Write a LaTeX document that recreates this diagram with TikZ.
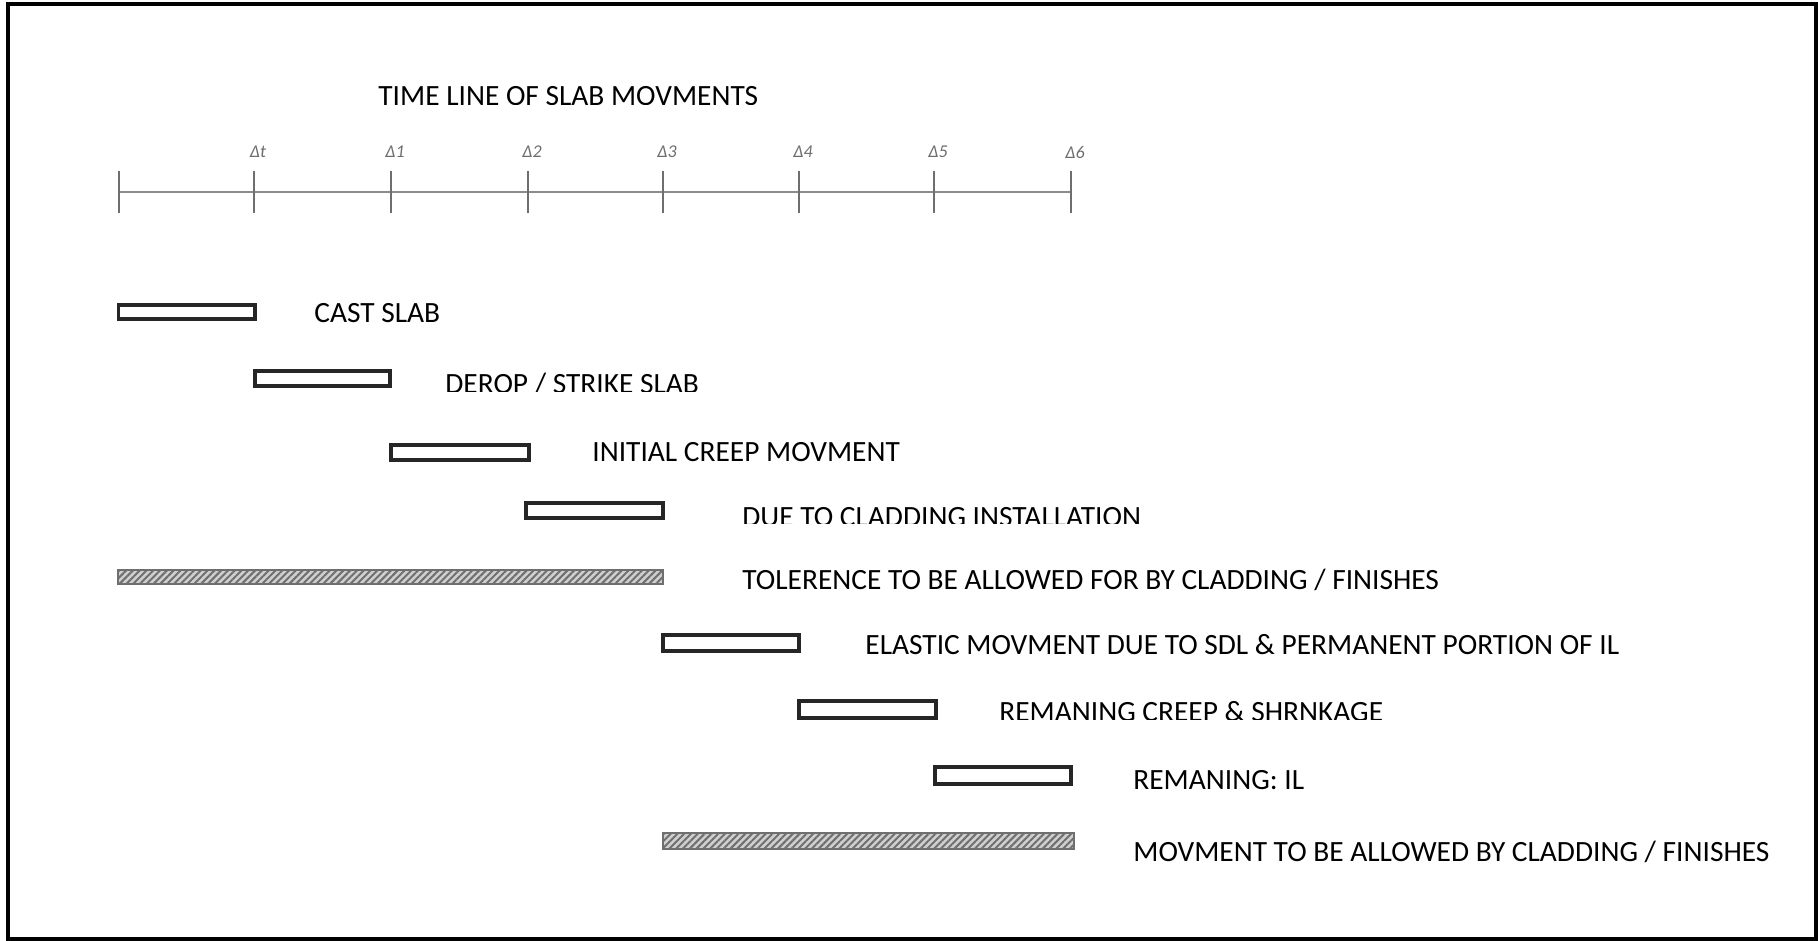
\documentclass[tikz,border=0pt]{standalone}
\usepackage{fontspec}
\setmainfont{Carlito}
\usetikzlibrary{patterns.meta}
\definecolor{linegray}{HTML}{8C8C8C}
\definecolor{tickgray}{HTML}{6E6E6E}
\definecolor{hatchbg}{HTML}{CFCFCF}
\definecolor{hatchln}{HTML}{6F6F6F}
\tikzset{
  lbl/.style={anchor=base west, inner sep=0pt, font=\fontsize{14.7pt}{16pt}\selectfont, text=black},
  dlbl/.style={inner sep=0pt, font=\fontsize{9pt}{10pt}\selectfont\itshape, text=tickgray},
  barbox/.style={draw=black!85, line width=1.6pt, fill=white},
  hatchbar/.style={draw=hatchln, line width=1.1pt, fill=hatchbg,
     postaction={pattern={Lines[angle=45,distance=2.4pt,line width=1pt]}, pattern color=hatchln}},
  tick/.style={draw=tickgray, line width=1pt},
}
\begin{document}
\begin{tikzpicture}[x=0.5pt,y=-0.5pt]
\useasboundingbox (0,0) rectangle (1818,941);
\draw[line width=1.6pt, black] (8,4) rectangle (1816,939);
% title (bottom slightly cut off, as in the reference)
\begin{scope}
\clip (300,60) rectangle (900,105);
\node[lbl] (title) at (378,106) {TIME LINE OF SLAB MOVMENTS};
\end{scope}
% timeline
\foreach \i/\x in {0/119,1/254,2/391,3/528,4/663,5/799,6/934,7/1071}{
  \coordinate (t\i) at (\x,192);
}
\draw[linegray, line width=1.4pt] (t0) -- (t7);
\foreach \i in {0,...,7}{
  \draw[tick] ([yshift=10.5pt]t\i) -- ([yshift=-10.5pt]t\i);
}
\foreach \i/\t in {1/t,2/1,3/2,4/3,5/4,6/5,7/6}{
  \node[dlbl] (d\i) at ([xshift=2pt,yshift=20pt]t\i) {Δ\t};
}
% bars
\draw[barbox] (118.5,305) rectangle (255,319);
\draw[barbox] (255,371) rectangle (390,386);
\draw[barbox] (391,445) rectangle (529,460);
\draw[barbox] (526,503) rectangle (663,518);
\draw[hatchbar] (118,570) rectangle (663,584);
\draw[barbox] (663,635) rectangle (799,651);
\draw[barbox] (799,701) rectangle (936,718);
\draw[barbox] (935,767) rectangle (1071,784);
\draw[hatchbar] (663,833) rectangle (1074,849);
% labels
\node[lbl] (l1) at (314,322) {CAST SLAB};
\begin{scope}
\clip (400,350) rectangle (800,391);
\node[lbl] (l2) at (445,393) {DEROP / STRIKE SLAB};
\end{scope}
\node[lbl] (l3) at (592,461) {INITIAL CREEP MOVMENT};
\begin{scope}
\clip (700,490) rectangle (1200,523);
\node[lbl] (l4) at (742,526) {DUE TO CLADDING INSTALLATION};
\end{scope}
\node[lbl] (l5) at (742,589) {TOLERENCE TO BE ALLOWED FOR BY CLADDING / FINISHES};
\node[lbl] (l6) at (865,654) {ELASTIC MOVMENT DUE TO SDL \& PERMANENT PORTION OF IL};
\begin{scope}
\clip (950,680) rectangle (1500,719);
\node[lbl] (l7) at (999,721) {REMANING CREEP \& SHRNKAGE};
\end{scope}
\node[lbl] (l8) at (1133,789) {REMANING: IL};
\node[lbl] (l9) at (1133,861) {MOVMENT TO BE ALLOWED BY CLADDING / FINISHES};
\end{tikzpicture}
\end{document}
